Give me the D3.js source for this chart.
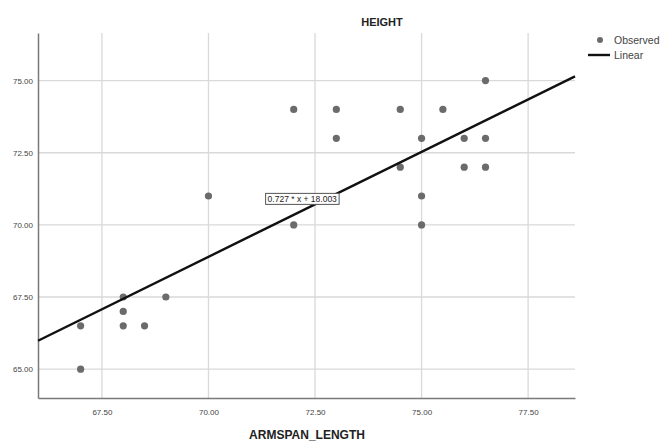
<!DOCTYPE html>
<html>
<head>
<meta charset="utf-8">
<script src="https://cdn.jsdelivr.net/npm/d3@7"></script>
<style>
  body { margin: 0; background: #fff; }
  svg text { font-family: "Liberation Sans", Arial, sans-serif; }
</style>
</head>
<body>
<div id="chart"></div>
<script>
// armspan vs height scatter with linear fit

const armspan = [67, 67, 68, 68.5, 68, 68, 69, 70, 72, 72, 73, 73, 74.5, 74.5, 75, 75, 75, 75.5, 76, 76, 76.5, 76.5, 76.5];
const height  = [65, 66.5, 66.5, 66.5, 67, 67.5, 67.5, 71, 70, 74, 74, 73, 74, 72, 73, 71, 70, 74, 73, 72, 75, 73, 72];
const xTicks = [67.5, 70, 72.5, 75, 77.5];
const yTicks = [65, 67.5, 70, 72.5, 75];
const fit = { slope: 0.727, intercept: 18.003 };
const fitLabel = "0.727 * x + 18.003";
const legendItems = ["Observed", "Linear"];

const W = 660, H = 442;
const margin = { top: 33, right: 85, bottom: 44, left: 38 };
const width = W - margin.left - margin.right;
const height_ = H - margin.top - margin.bottom;

const svg = d3.select("#chart").append("svg")
    .attr("width", W)
    .attr("height", H);

const g = svg.append("g")
    .attr("transform", `translate(${margin.left},${margin.top})`);

const x = d3.scaleLinear().domain([66, 78.6]).range([0, width]);
const y = d3.scaleLinear().domain([64, 76.65]).range([height_, 0]);

// Grid
g.append("g").selectAll("line").data(xTicks).join("line")
    .attr("x1", d => x(d)).attr("x2", d => x(d))
    .attr("y1", 0).attr("y2", height_)
    .attr("stroke", "#d9d9d9").attr("stroke-width", 1.3);
g.append("g").selectAll("line").data(yTicks).join("line")
    .attr("y1", d => y(d)).attr("y2", d => y(d))
    .attr("x1", 0).attr("x2", width)
    .attr("stroke", "#d9d9d9").attr("stroke-width", 1.3);

// Axes
const xAxis = g.append("g")
    .attr("transform", `translate(0,${height_})`)
    .call(d3.axisBottom(x).tickValues(xTicks).tickFormat(d3.format(".2f")).tickSize(0).tickPadding(11));
const yAxis = g.append("g")
    .call(d3.axisLeft(y).tickValues(yTicks).tickFormat(d3.format(".2f")).tickSize(0).tickPadding(5));
[xAxis, yAxis].forEach(a => {
    a.select(".domain").attr("stroke", "#7a7a7a").attr("stroke-width", 1.5);
    a.selectAll("text").attr("fill", "#444").style("font-size", "8px");
});

// Points
g.append("g").selectAll("circle").data(armspan).join("circle")
    .attr("cx", d => x(d))
    .attr("cy", (d, i) => y(height[i]))
    .attr("r", 3.6)
    .attr("fill", "#6b6b6b");

// Regression line across x domain
const xd = x.domain();
g.append("line")
    .attr("x1", x(xd[0])).attr("y1", y(fit.slope * xd[0] + fit.intercept))
    .attr("x2", x(xd[1])).attr("y2", y(fit.slope * xd[1] + fit.intercept))
    .attr("stroke", "#111").attr("stroke-width", 2.4);

// Fit label box
const lblX = 72.2, lblY = 70.9;
const lbl = g.append("g").attr("transform", `translate(${x(lblX)},${y(lblY)})`);
const lblText = lbl.append("text")
    .attr("text-anchor", "middle")
    .attr("dy", "0.35em")
    .style("font-size", "8.5px")
    .attr("fill", "#222")
    .text(fitLabel);
const bb = lblText.node().getBBox();
lbl.insert("rect", "text")
    .attr("x", bb.x - 2).attr("y", bb.y - 0.5)
    .attr("width", bb.width + 4).attr("height", bb.height + 1)
    .attr("fill", "#fff").attr("stroke", "#555").attr("stroke-width", 1);

// Titles
svg.append("text")
    .attr("x", 382).attr("y", 26)
    .attr("text-anchor", "middle")
    .style("font-size", "11px").style("font-weight", "bold")
    .attr("fill", "#222")
    .text("HEIGHT");
svg.append("text")
    .attr("x", 307).attr("y", 439)
    .attr("text-anchor", "middle")
    .style("font-size", "12px").style("font-weight", "bold")
    .attr("fill", "#222")
    .text("ARMSPAN_LENGTH");

// Legend
const legend = svg.append("g").attr("transform", "translate(588,40)");
legend.append("circle").attr("cx", 12).attr("cy", 0).attr("r", 3).attr("fill", "#6b6b6b");
legend.append("line").attr("x1", 0).attr("x2", 22).attr("y1", 15).attr("y2", 15)
    .attr("stroke", "#111").attr("stroke-width", 2.4);
legend.selectAll("text").data(legendItems).join("text")
    .attr("x", 26).attr("y", (d, i) => i * 15)
    .attr("dy", "0.35em")
    .style("font-size", "10.5px")
    .attr("fill", "#444")
    .text(d => d);
</script>
</body>
</html>
